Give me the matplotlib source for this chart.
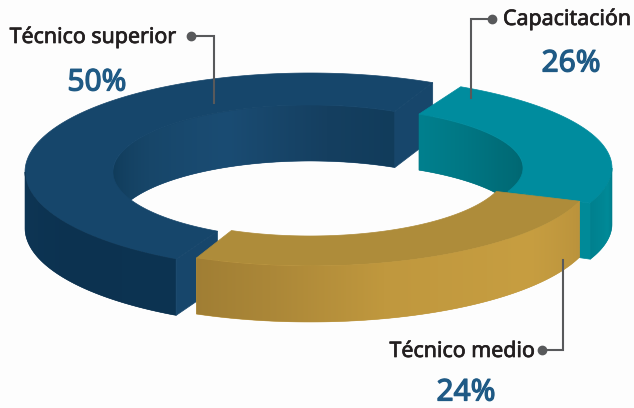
import matplotlib
matplotlib.use("Agg")
import matplotlib.pyplot as plt
import matplotlib.patheffects as pe
from matplotlib.patches import Polygon
import numpy as np

# datos
categories = ["Técnico superior", "Capacitación", "Técnico medio"]
values = [50, 26, 24]
value_labels = ["50%", "26%", "24%"]

# geometria de cada porcion, en pixeles de la imagen
starts = [64.5, -22.5, 246.5]
stretch = [0.986, 0.903, 1.094]
centers = [(310, 172), (327, 168), (310, 170)]
outer = [(285, 99), (285, 92), (285, 96)]
inner = [(197, 67), (196, 61), (197, 66)]
DEPTH = 56

top_colors = ["#16466b", "#008c9e", "#ae8c3a"]
cap_colors = ["#17466b", "#008a98", "#a8853a"]
inner_stops = [
    [(64, "#113c5b"), (85, "#153f60"), (115, "#1a4c73"), (145, "#174669"), (180, "#0f3a58")],
    [(0, "#00656f"), (30, "#006e7a"), (62, "#00808e")],
    [],
]
outer_stops = [
    [(180, "#0e3655"), (215, "#0c3250"), (242, "#0d3452")],
    [(-23, "#00808e"), (-10, "#008a98"), (0, "#007a88")],
    [(246, "#a07e34"), (262, "#ab8738"), (285, "#c0983e"), (320, "#c79e41"), (341, "#bb933c")],
]

label_pos = [(93, 37.5), (567, 19.5), (462, 351.5)]
value_pos = [(97, 83), (571, 64), (466, 393)]
leaders = [
    [(191, 36), (214, 36), (214, 103)],
    [(492, 19), (471, 19), (471, 98)],
    [(542, 350), (563, 350), (563, 260)],
]

z_next = [1]


def next_z():
    z_next[0] += 1
    return z_next[0]


def ellipse(center, radii, deg, drop=0):
    t = np.radians(deg)
    return center[0] + radii[0] * np.cos(t), center[1] - radii[1] * np.sin(t) + drop


def fill_poly(ax, xs, ys, color):
    ax.fill(xs, ys, color=color, lw=0.5, zorder=next_z())


def end_cap(ax, i, deg):
    # cara plana del corte de la porcion
    xi, yi = ellipse(centers[i], inner[i], deg)
    xo, yo = ellipse(centers[i], outer[i], deg)
    fill_poly(ax, [xi, xo, xo, xi], [yi, yo, yo + DEPTH, yi + DEPTH], cap_colors[i])


def wall(ax, center, radii, a0, a1, stops):
    # pared vertical, degradado horizontal recortado con el contorno
    if a1 <= a0:
        return
    arc = np.linspace(a0, a1, 300)
    xt, yt = ellipse(center, radii, arc)
    xb, yb = ellipse(center, radii, arc, DEPTH)
    xs = np.r_[xt, xb[::-1]]
    ys = np.r_[yt, yb[::-1]]

    pos = [s[0] for s in stops]
    rgb = np.array([matplotlib.colors.to_rgb(s[1]) for s in stops])
    order = np.argsort(xt)
    grid = np.linspace(xs.min(), xs.max(), 300)
    deg_at_x = np.interp(grid, xt[order], arc[order])
    img = np.stack([np.interp(deg_at_x, pos, rgb[:, k]) for k in range(3)], axis=-1)[None, :, :]

    z = next_z()
    # base para que el borde quede suave
    ax.fill(xs, ys, color=img[0, 150], lw=0.4, zorder=z)
    patch = Polygon(np.c_[xs, ys], closed=True, transform=ax.transData, fc="none", ec="none")
    ax.add_patch(patch)
    im = ax.imshow(img, extent=(xs.min(), xs.max(), ys.max(), ys.min()), aspect="auto",
                   interpolation="bilinear", zorder=z)
    im.set_clip_path(patch)


def draw_slice(ax, i):
    lo = starts[i]
    hi = lo + values[i] * 3.6 * stretch[i]
    c, ro, ri = centers[i], outer[i], inner[i]

    # pared interior: solo la mitad de atras se ve
    if inner_stops[i]:
        wall(ax, c, ri, max(lo, 0), min(hi, 180), inner_stops[i])

    if i == 0:
        end_cap(ax, i, lo)
    if i == 1:
        end_cap(ax, i, lo)

    # cara superior
    arc = np.linspace(lo, hi, 200)
    xo, yo = ellipse(c, ro, arc)
    xi, yi = ellipse(c, ri, arc)
    fill_poly(ax, np.r_[xo, xi[::-1]], np.r_[yo, yi[::-1]], top_colors[i])

    # pared exterior: mitad de adelante
    if i == 1:
        wall(ax, c, ro, lo, 0, outer_stops[i])
    else:
        wall(ax, c, ro, max(lo, 180), min(hi, 360), outer_stops[i])

    if i == 0:
        end_cap(ax, i, hi)


def main():
    plt.rcParams["font.family"] = ["Noto Sans", "DejaVu Sans"]
    fig = plt.figure(figsize=(6.34, 4.08), dpi=100, facecolor="#fdfdfd")
    ax = fig.add_axes([0, 0, 1, 1])
    ax.axis("off")

    for i in range(len(values)):
        draw_slice(ax, i)

    ax.set_xlim(0, 634)
    ax.set_ylim(408, 0)

    for i in range(len(categories)):
        pts = leaders[i]
        ax.plot([p[0] for p in pts], [p[1] for p in pts], color="#58595b", lw=1.5,
                solid_joinstyle="miter", zorder=50)
        ax.plot(pts[0][0], pts[0][1], "o", color="#58595b", ms=6, zorder=51)
        t1 = ax.text(label_pos[i][0], label_pos[i][1], categories[i], ha="center", va="center",
                     fontsize=15.4, color="#231f20", zorder=52)
        t2 = ax.text(value_pos[i][0], value_pos[i][1], value_labels[i], ha="center", va="center",
                     fontsize=21.5, color="#1f5a85", zorder=52)
        t1.set_path_effects([pe.withStroke(linewidth=0.5, foreground="#231f20")])
        t2.set_path_effects([pe.withStroke(linewidth=0.9, foreground="#1f5a85")])

    fig.savefig("out.png", dpi=100, facecolor=fig.get_facecolor())


if __name__ == "__main__":
    main()
